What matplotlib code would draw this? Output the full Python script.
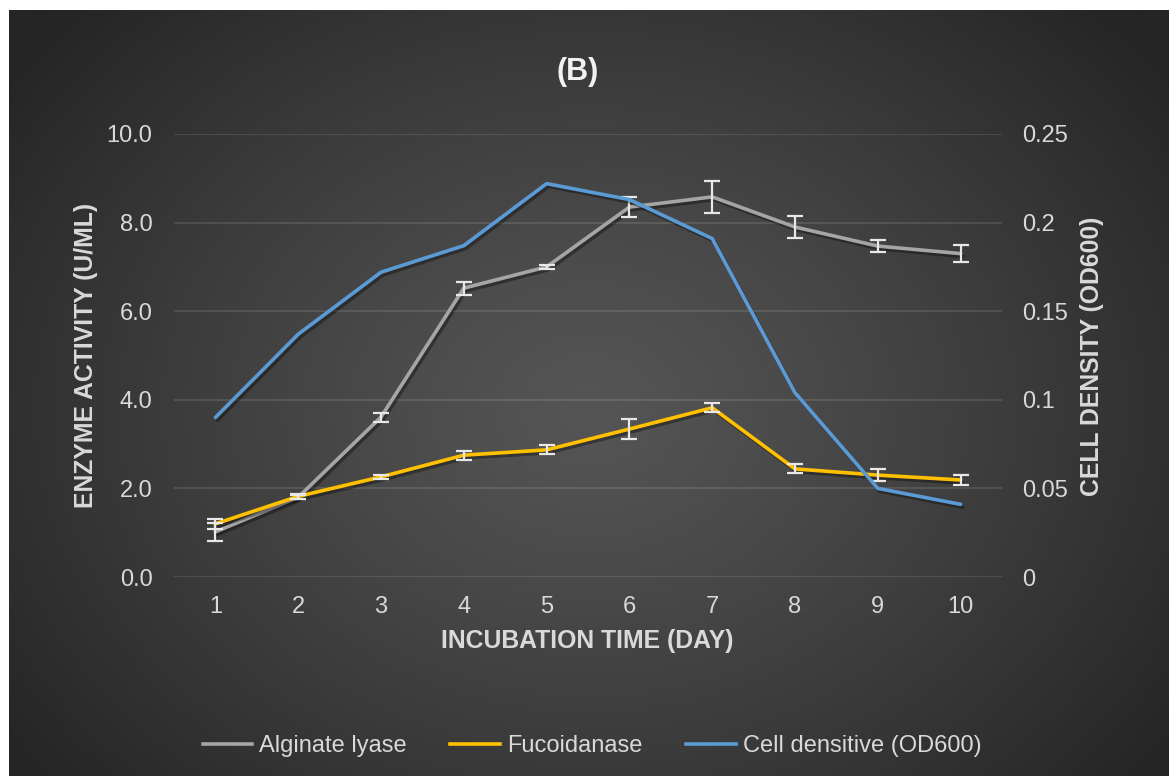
import numpy as np
import matplotlib
matplotlib.use("Agg")
import matplotlib.pyplot as plt
import matplotlib.patheffects as pe
from matplotlib.lines import Line2D

plt.rcParams['font.family'] = ['Liberation Sans', 'DejaVu Sans']

# Incubation days
days = [1, 2, 3, 4, 5, 6, 7, 8, 9, 10]

# Enzyme activity (U/mL) with standard deviation
alginate_lyase = [1.02, 1.80, 3.61, 6.52, 7.00, 8.35, 8.58, 7.90, 7.47, 7.30]
alginate_err = [0.20, 0.05, 0.10, 0.15, 0.05, 0.23, 0.37, 0.25, 0.13, 0.19]
fucoidanase = [1.20, 1.82, 2.26, 2.75, 2.87, 3.34, 3.82, 2.44, 2.30, 2.19]
fucoidanase_err = [0.12, 0.05, 0.05, 0.10, 0.10, 0.23, 0.10, 0.10, 0.13, 0.12]

# Cell density (OD600)
cell_density = [0.090, 0.137, 0.172, 0.187, 0.222, 0.213, 0.191, 0.104, 0.050, 0.041]

left_ticks = [0, 2, 4, 6, 8, 10]
left_labels = ["0.0", "2.0", "4.0", "6.0", "8.0", "10.0"]
right_ticks = [0, 0.05, 0.10, 0.15, 0.20, 0.25]
right_labels = ["0", "0.05", "0.1", "0.15", "0.2", "0.25"]

W, H = 1171, 776
fig = plt.figure(figsize=(W / 100, H / 100), dpi=100)
fig.patch.set_facecolor("white")

# Dark radial gradient panel
bg = fig.add_axes([9 / W, 0, 1160 / W, 766 / H], zorder=-10)
ny, nx = 400, 600
yy, xx = np.mgrid[0:ny, 0:nx]
cx, cy = nx * 0.50, ny * 0.52
r = np.sqrt(((xx - cx) / (nx * 0.62)) ** 2 + ((yy - cy) / (ny * 0.75)) ** 2)
r = np.clip(r, 0, 1)
inner, outer = 0x55 / 255, 0x25 / 255
val = inner + (outer - inner) * r ** 1.2
img = np.dstack([val, val, val])
bg.imshow(img, aspect="auto", extent=[0, 1, 0, 1], interpolation="bilinear")
bg.set_axis_off()

txt = "#d9d9d9"
fs = 17
fs_lab = 17.8

ax = fig.add_axes([174 / W, 1 - 577 / H, (1002 - 174) / W, (577 - 134) / H])
ax.patch.set_alpha(0)
ax.set_xlim(0.5, 10.5)
ax.set_ylim(0, 10)
ax.set_yticks(left_ticks)
ax.set_yticklabels(left_labels)
ax.set_xticks(days)
ax.set_xticklabels([str(d) for d in days])
for s in ax.spines.values():
    s.set_visible(False)
ax.tick_params(axis="both", length=0, colors=txt, labelsize=fs)
ax.tick_params(axis="y", pad=15.5)
ax.tick_params(axis="x", pad=14)
ax.grid(axis="y", color="white", alpha=0.13, lw=1.2)
ax.set_axisbelow(True)

shadow = [pe.SimpleLineShadow(offset=(1.5, -2), shadow_color="black", alpha=0.35), pe.Normal()]

c_alg, c_fuc, c_cell = "#a5a5a5", "#ffc000", "#5b9bd5"
lw = 2.6
ax.plot(days, alginate_lyase, color=c_alg, lw=lw, solid_capstyle="round",
        path_effects=shadow, zorder=3)
ax.plot(days, fucoidanase, color=c_fuc, lw=lw, solid_capstyle="round",
        path_effects=shadow, zorder=3)
ebkw = dict(fmt="none", ecolor="#e8e8e8", elinewidth=1.6, capsize=6, capthick=1.6, zorder=4)
ax.errorbar(days, alginate_lyase, yerr=alginate_err, **ebkw)
ax.errorbar(days, fucoidanase, yerr=fucoidanase_err, **ebkw)

ax2 = ax.twinx()
ax2.patch.set_alpha(0)
ax2.set_ylim(0, 0.25)
ax2.set_yticks(right_ticks)
ax2.set_yticklabels(right_labels)
for s in ax2.spines.values():
    s.set_visible(False)
ax2.tick_params(axis="y", length=0, colors=txt, labelsize=fs, pad=14.5)
ax2.plot(days, cell_density, color=c_cell, lw=lw, solid_capstyle="round",
         path_effects=shadow, zorder=3)

# Titles and axis labels
fig.text(578 / W, 1 - 72 / H, "(B)", ha="center", va="center", fontsize=22,
         fontweight="bold", color="#f2f2f2")
fig.text(587 / W, 1 - 641 / H, "INCUBATION TIME (DAY)", ha="center", va="center",
         fontsize=fs_lab, fontweight="bold", color=txt)
fig.text(86 / W, 1 - 355 / H, "ENZYME ACTIVITY (U/ML)", ha="center", va="center",
         rotation=90, fontsize=fs_lab, fontweight="bold", color=txt)
fig.text(1092 / W, 1 - 356 / H, "CELL DENSITY (OD600)", ha="center", va="center",
         rotation=90, fontsize=fs_lab, fontweight="bold", color=txt)

handles = [Line2D([], [], color=c_alg, lw=lw),
           Line2D([], [], color=c_fuc, lw=lw),
           Line2D([], [], color=c_cell, lw=lw)]
leg = fig.legend(handles, ["Alginate lyase", "Fucoidanase", "Cell densitive (OD600)"],
                 loc="center", bbox_to_anchor=(592 / W, 1 - 746 / H), ncol=3,
                 frameon=False, fontsize=fs, handlelength=2.1, handletextpad=0.3,
                 columnspacing=1.85, borderaxespad=0)
for t in leg.get_texts():
    t.set_color(txt)

fig.savefig("out.png", dpi=100, facecolor=fig.get_facecolor())
